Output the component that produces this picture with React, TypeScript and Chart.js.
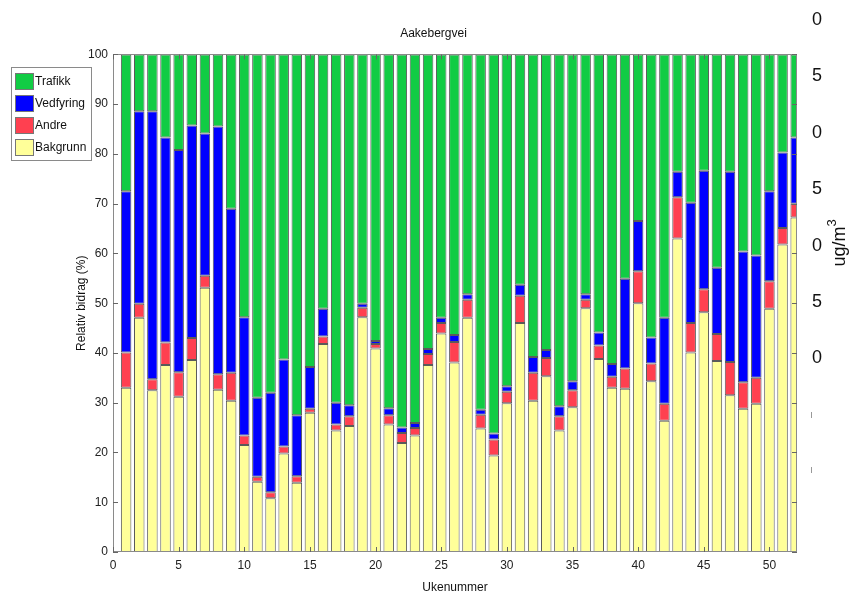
import React, { useEffect, useRef } from 'react';
import { Chart, registerables } from 'chart.js';

Chart.register(...registerables);

const weeks = [1, 2, 3, 4, 5, 6, 7, 8, 9, 10, 11, 12, 13, 14, 15, 16, 17, 18, 19, 20, 21, 22, 23, 24, 25, 26,
  27, 28, 29, 30, 31, 32, 33, 34, 35, 36, 37, 38, 39, 40, 41, 42, 43, 44, 45, 46, 47, 48, 49, 50, 51, 52];

const bakgrunn = [33.0, 47.1, 32.5, 37.6, 31.2, 38.6, 53.1, 32.6, 30.4, 21.5, 14.1, 10.8, 19.8, 13.9, 28.0, 41.8,
  24.4, 25.3, 47.2, 40.9, 25.6, 21.9, 23.4, 37.6, 43.9, 38.1, 47.1, 24.8, 19.4, 29.9, 46.0, 30.4, 35.3, 24.4,
  29.1, 49.0, 38.8, 33.0, 32.8, 50.0, 34.3, 26.4, 63.0, 40.1, 48.2, 38.4, 31.5, 28.8, 29.8, 48.9, 61.8, 67.2];

const andre = [7.1, 2.8, 2.2, 4.5, 4.9, 4.4, 2.4, 3.1, 5.6, 1.9, 1.0, 1.2, 1.4, 1.3, 0.8, 1.5,
  1.2, 2.0, 1.9, 0.9, 1.9, 2.0, 1.5, 2.2, 2.1, 4.1, 3.6, 2.8, 3.2, 2.3, 5.5, 5.6, 3.7, 2.9,
  3.4, 1.7, 2.7, 2.2, 4.1, 6.4, 3.6, 3.4, 8.3, 5.9, 4.6, 5.4, 6.7, 5.3, 5.2, 5.5, 3.3, 2.8];

const vedfyring = [32.4, 38.7, 53.9, 41.2, 44.7, 42.7, 28.6, 49.8, 33.0, 23.8, 15.9, 20.0, 17.5, 12.3, 8.4, 5.6,
  4.4, 2.2, 0.8, 0.6, 1.4, 1.1, 1.0, 1.0, 1.1, 1.4, 1.1, 1.0, 1.2, 1.1, 2.2, 3.2, 1.6, 2.0,
  1.8, 1.1, 2.6, 2.6, 18.0, 10.1, 5.2, 17.3, 5.1, 24.2, 23.8, 13.3, 38.2, 26.3, 24.6, 18.1, 15.2, 13.3];

const trafikk = [27.5, 11.4, 11.4, 16.7, 19.2, 14.3, 15.9, 14.5, 31.0, 52.8, 69.0, 68.0, 61.3, 72.5, 62.8, 51.1,
  70.0, 70.5, 50.1, 57.6, 71.1, 75.0, 74.1, 59.2, 52.9, 56.4, 48.2, 71.4, 76.2, 66.7, 46.3, 60.8, 59.4, 70.7,
  65.7, 48.2, 55.9, 62.2, 45.1, 33.5, 56.9, 52.9, 23.6, 29.8, 23.4, 42.9, 23.6, 39.6, 40.4, 27.5, 19.7, 16.7];

const seriesNames = ['Bakgrunn', 'Andre', 'Vedfyring', 'Trafikk'];
const seriesColors = ['#ffff99', '#ff4050', '#0000ff', '#11cc44'];
const legendOrder = ['Trafikk', 'Vedfyring', 'Andre', 'Bakgrunn'];

const yTickValues = [0, 10, 20, 30, 40, 50, 60, 70, 80, 90, 100];
const xTickValues = [0, 5, 10, 15, 20, 25, 30, 35, 40, 45, 50];

// stray labels from an overlapping right-hand axis
const strayLabels = ['0', '5', '0', '5', '0', '5', '0'];

const FONT = '"Liberation Sans", Arial, Helvetica, sans-serif';

const decorPlugin = {
  id: 'decor',
  afterDatasetsDraw(chart: any) {
    const { ctx, chartArea, scales } = chart;
    const { left, right, top, bottom } = chartArea;
    const x = scales.x;
    const y = scales.y;
    ctx.save();
    ctx.strokeStyle = '#8a8a8a';
    ctx.lineWidth = 1;
    ctx.strokeRect(Math.round(left) + 0.5, Math.round(top) + 0.5, Math.round(right - left) - 1, Math.round(bottom - top) - 1);
    ctx.strokeStyle = '#666';
    ctx.beginPath();
    for (const v of yTickValues) {
      const py = Math.round(y.getPixelForValue(v)) + 0.5;
      ctx.moveTo(left, py);
      ctx.lineTo(left + 5, py);
      ctx.moveTo(right, py);
      ctx.lineTo(right - 5, py);
    }
    for (const v of xTickValues) {
      const px = Math.round(x.getPixelForValue(v)) + 0.5;
      ctx.moveTo(px, bottom);
      ctx.lineTo(px, bottom - 5);
      ctx.moveTo(px, top);
      ctx.lineTo(px, top + 5);
    }
    ctx.stroke();
    ctx.restore();
  },
  afterDraw(chart: any) {
    const { ctx } = chart;
    ctx.save();
    // legend
    ctx.fillStyle = '#ffffff';
    ctx.fillRect(11, 67, 80, 93);
    ctx.strokeStyle = '#8a8a8a';
    ctx.lineWidth = 1;
    ctx.strokeRect(11.5, 67.5, 80, 93);
    ctx.font = `12px ${FONT}`;
    ctx.textBaseline = 'middle';
    ctx.textAlign = 'left';
    legendOrder.forEach((name, i) => {
      const cy = 81 + i * 22;
      const idx = seriesNames.indexOf(name);
      ctx.fillStyle = seriesColors[idx];
      ctx.fillRect(15, cy - 8, 18, 16);
      ctx.strokeStyle = '#777';
      ctx.strokeRect(15.5, cy - 7.5, 18, 16);
      ctx.fillStyle = '#111';
      ctx.fillText(name, 35, cy + 1);
    });

    // stray right-hand labels
    ctx.font = `18px ${FONT}`;
    ctx.fillStyle = '#111';
    ctx.textAlign = 'center';
    ctx.textBaseline = 'middle';
    strayLabels.forEach((t, i) => {
      ctx.fillText(t, 817, 20 + i * 56.4);
    });
    ctx.strokeStyle = '#999';
    ctx.beginPath();
    ctx.moveTo(811.5, 412);
    ctx.lineTo(811.5, 418);
    ctx.moveTo(811.5, 467);
    ctx.lineTo(811.5, 473);
    ctx.stroke();

    // ug/m3 rotated
    ctx.translate(840, 243);
    ctx.rotate(-Math.PI / 2);
    ctx.font = `18px ${FONT}`;
    ctx.textAlign = 'left';
    ctx.textBaseline = 'middle';
    const base = 'ug/m';
    const w = ctx.measureText(base).width;
    ctx.font = `13px ${FONT}`;
    const w3 = ctx.measureText('3').width;
    const start = -(w + w3) / 2;
    ctx.font = `18px ${FONT}`;
    ctx.fillText(base, start, 0);
    ctx.font = `13px ${FONT}`;
    ctx.fillText('3', start + w, -8);
    ctx.restore();
  },
};

export default function App() {
  const ref = useRef<HTMLCanvasElement | null>(null);

  useEffect(() => {
    if (!ref.current) return;
    const datasets = [bakgrunn, andre, vedfyring, trafikk].map((vals, i) => ({
      label: seriesNames[i],
      data: weeks.map((w, j) => ({ x: w, y: vals[j] })),
      backgroundColor: seriesColors[i],
      borderColor: '#5a5a5a',
      borderWidth: 1,
      borderSkipped: false,
      categoryPercentage: 1,
      barPercentage: 0.8,
    }));

    const chart = new Chart(ref.current, {
      type: 'bar',
      data: { datasets: datasets as any },
      options: {
        animation: false,
        responsive: false,
        maintainAspectRatio: false,
        layout: { padding: { left: 70, right: 58, top: 0, bottom: 0 } },
        plugins: {
          legend: { display: false },
          tooltip: { enabled: false },
          title: {
            display: true,
            text: 'Aakebergvei',
            color: '#111',
            font: { family: FONT, size: 12, weight: 'normal' },
            padding: { top: 26, bottom: 14 },
          },
        },
        scales: {
          x: {
            type: 'linear',
            stacked: true,
            min: 0,
            max: 52.1,
            offset: false,
            grid: { display: false, drawTicks: false },
            border: { display: false },
            afterBuildTicks: (scale: any) => {
              scale.ticks = xTickValues.map((v) => ({ value: v }));
            },
            afterFit: (scale: any) => {
              scale.height = 45;
            },
            ticks: {
              color: '#222',
              padding: 6,
              font: { family: FONT, size: 12 },
              maxRotation: 0,
              autoSkip: false,
            },
            title: {
              display: true,
              text: 'Ukenummer',
              color: '#111',
              font: { family: FONT, size: 12 },
              padding: { top: 0, bottom: 2 },
            },
          },
          y: {
            stacked: true,
            min: 0,
            max: 100,
            grid: { display: false, drawTicks: false },
            border: { display: false },
            afterBuildTicks: (scale: any) => {
              scale.ticks = yTickValues.map((v) => ({ value: v }));
            },
            afterFit: (scale: any) => {
              scale.width = 43;
            },
            ticks: {
              color: '#222',
              padding: 5,
              font: { family: FONT, size: 12 },
            },
            title: {
              display: true,
              text: 'Relativ bidrag (%)',
              color: '#111',
              font: { family: FONT, size: 12 },
              padding: { top: 4, bottom: 0 },
            },
          },
        },
      },
      plugins: [decorPlugin],
    });
    return () => chart.destroy();
  }, []);

  return (
    <div style={{ position: 'fixed', left: 0, top: 0, width: 855, height: 597, background: '#fff' }}>
      <canvas ref={ref} width={855} height={597} style={{ display: 'block', width: 855, height: 597 }} />
    </div>
  );
}
